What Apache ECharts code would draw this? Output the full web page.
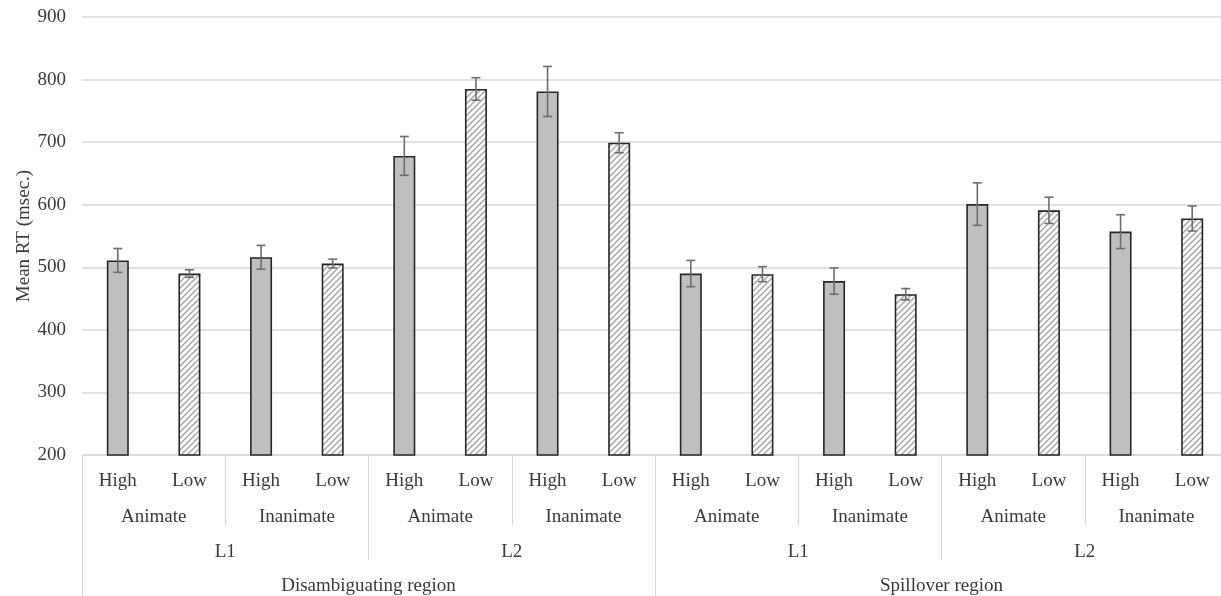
<!DOCTYPE html>
<html>
<head>
<meta charset="utf-8">
<script src="https://cdn.jsdelivr.net/npm/echarts@6/dist/echarts.min.js"></script>
<style>
html,body{margin:0;padding:0;background:#fff;}
#chart{width:1221px;height:596px;}
</style>
</head>
<body>
<div id="chart"></div>
<script>
// ---- data ----
var frequency = ['High','Low','High','Low','High','Low','High','Low','High','Low','High','Low','High','Low','High','Low'];
var animacy = ['Animate','Inanimate','Animate','Inanimate','Animate','Inanimate','Animate','Inanimate'];
var language = ['L1','L2','L1','L2'];
var region = ['Disambiguating region','Spillover region'];
var meanRT = [511, 490, 516, 506, 678, 785, 781, 699, 490, 489, 478, 457, 601, 591, 557, 578];
var errRT  = [19, 6, 19, 7, 31, 18, 40, 16, 21, 12, 21, 9, 34, 21, 27, 20];
var yTicks = { min: 200, max: 900, interval: 100 };

// ---- style ----
var FONT = "'Liberation Serif','Times New Roman',serif";
var TXT = '#3a3a3a';
var GRIDC = '#d9d9d9';

function hatch() {
  var p = 6, c = document.createElement('canvas');
  c.width = p; c.height = p;
  var g = c.getContext('2d');
  g.fillStyle = '#ffffff'; g.fillRect(0,0,p,p);
  g.strokeStyle = '#a8a8a8'; g.lineWidth = 1.5;
  g.beginPath();
  g.moveTo(0,p); g.lineTo(p,0);
  g.moveTo(-1,1); g.lineTo(1,-1);
  g.moveTo(p-1,p+1); g.lineTo(p+1,p-1);
  g.stroke();
  return c;
}
var hatchImg = hatch();

var barData = meanRT.map(function(v,i){
  return {
    value: v,
    itemStyle: frequency[i] === 'Low'
      ? { color: { image: hatchImg, repeat: 'repeat' }, borderColor: '#262626', borderWidth: 1.6 }
      : { color: '#bfbfbf', borderColor: '#262626', borderWidth: 1.6 }
  };
});
var errData = meanRT.map(function(v,i){ return [i, v, errRT[i]]; });

function subAxis(data, tickLen, margin) {
  return {
    type: 'category', data: data, gridIndex: 0, position: 'bottom', offset: 0,
    axisLine: { show: false },
    axisTick: { show: true, length: tickLen, interval: 0, lineStyle: { color: GRIDC, width: 1 } },
    axisLabel: { interval: 0, margin: margin, color: TXT, fontFamily: FONT, fontSize: 19 },
    splitLine: { show: false }
  };
}

var chart = echarts.init(document.getElementById('chart'), null, { renderer: 'canvas' });
chart.setOption({
  animation: false,
  backgroundColor: '#ffffff',
  grid: { left: 82, width: 1146, top: 17, bottom: 141, containLabel: false, outerBoundsMode: 'none' },
  xAxis: [
    {
      type: 'category', data: frequency, gridIndex: 0, position: 'bottom',
      axisLine: { show: true, lineStyle: { color: GRIDC, width: 1.5 } },
      axisTick: { show: false },
      axisLabel: { interval: 0, margin: 17, color: TXT, fontFamily: FONT, fontSize: 19 },
      splitLine: { show: false }
    },
    subAxis(animacy, 70, 53),
    subAxis(language, 105, 88),
    subAxis(region, 145, 122)
  ],
  yAxis: {
    type: 'value', min: yTicks.min, max: yTicks.max, interval: yTicks.interval,
    name: 'Mean RT (msec.)', nameLocation: 'middle', nameGap: 48, nameRotate: 90,
    nameMoveOverlap: false,
    nameTextStyle: { color: TXT, fontFamily: FONT, fontSize: 19 },
    axisLine: { show: false }, axisTick: { show: false },
    axisLabel: { color: TXT, fontFamily: FONT, fontSize: 19, margin: 16 },
    splitLine: { lineStyle: { color: GRIDC, width: 1.5 } }
  },
  series: [
    {
      type: 'bar', xAxisIndex: 0, yAxisIndex: 0, barWidth: 22,
      data: barData, z: 2
    },
    {
      type: 'custom', xAxisIndex: 0, yAxisIndex: 0, z: 3,
      encode: { x: 0, y: [1] },
      data: errData,
      renderItem: function(params, api) {
        var x = api.value(0), v = api.value(1), e = api.value(2);
        var hi = api.coord([x, v + e]), lo = api.coord([x, v - e]);
        var hw = 4.5;
        var st = { stroke: '#6e6e6e', lineWidth: 1.6 };
        return {
          type: 'group',
          children: [
            { type: 'line', shape: { x1: hi[0], y1: hi[1], x2: lo[0], y2: lo[1] }, style: st },
            { type: 'line', shape: { x1: hi[0]-hw, y1: hi[1], x2: hi[0]+hw, y2: hi[1] }, style: st },
            { type: 'line', shape: { x1: lo[0]-hw, y1: lo[1], x2: lo[0]+hw, y2: lo[1] }, style: st }
          ]
        };
      }
    }
  ]
});
</script>
</body>
</html>
